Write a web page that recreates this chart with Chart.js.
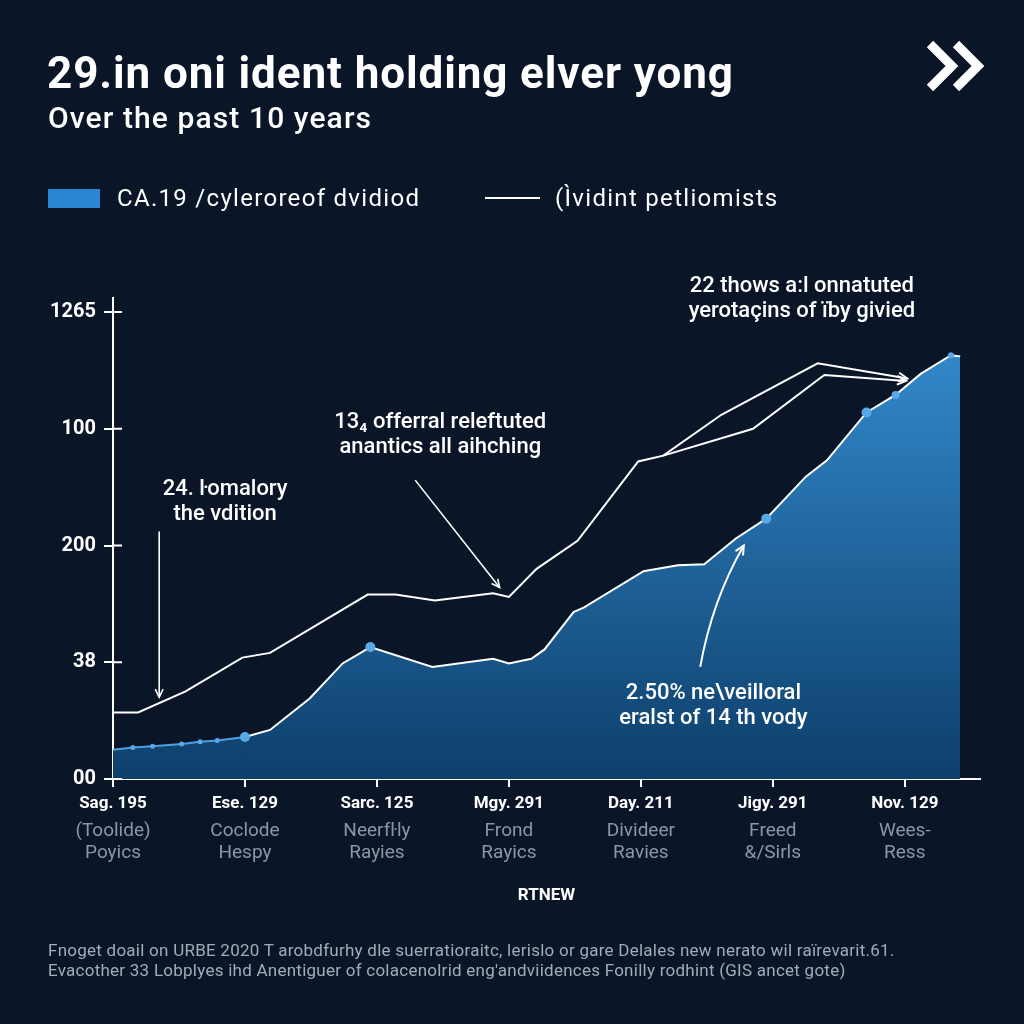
<!DOCTYPE html>
<html>
<head>
<meta charset="utf-8">
<script src="https://cdn.jsdelivr.net/npm/chart.js@4.4.1/dist/chart.umd.min.js"></script>
<style>
  html, body { margin: 0; padding: 0; background: #0a1628; }
  body { width: 1024px; height: 1024px; position: relative; overflow: hidden;
         font-family: Roboto, "Liberation Sans", sans-serif; color: #fff; }
  #chart { position: absolute; left: 0; top: 0; }
  .title { position: absolute; left: 47px; top: 51px; font-size: 44px; line-height: 1; font-weight: 700;
           letter-spacing: 0.9px; white-space: nowrap; }
  .subtitle { position: absolute; left: 48px; top: 103px; font-size: 30px; line-height: 1; font-weight: 500;
              letter-spacing: 1.1px; white-space: nowrap; }
  .legend { position: absolute; top: 186px; font-size: 24px; line-height: 1; letter-spacing: 1.3px;
            white-space: nowrap; }
  .swatch { position: absolute; left: 48px; top: 189px; width: 52px; height: 19px; background: #2a86d2; }
  .dash { position: absolute; left: 485px; top: 197px; width: 55px; height: 2px; background: #fff; }
  .chevron { position: absolute; left: 920px; top: 38px; }
  .note { position: absolute; left: 48px; top: 940px; font-size: 17px; line-height: 20px; color: #a3abb8;
          letter-spacing: 0.25px; white-space: nowrap; }
</style>
</head>
<body>
<canvas id="chart" width="1024" height="1024"></canvas>

<div class="title">29.in oni ident holding elver yong</div>
<div class="subtitle">Over the past 10 years</div>

<div class="swatch"></div>
<div class="legend" style="left:117px">CA.19 /cyleroreof dvidiod</div>
<div class="dash"></div>
<div class="legend" style="left:555px">(Ìvidint petliomists</div>

<svg class="chevron" width="72" height="56" viewBox="0 0 72 56">
  <polyline points="10,6 32,28 10,50" fill="none" stroke="#fff" stroke-width="9" stroke-linejoin="miter"/>
  <polyline points="36,6 58,28 36,50" fill="none" stroke="#fff" stroke-width="9" stroke-linejoin="miter"/>
</svg>

<div class="note">Fnoget doail on URBE 2020 T arobdfurhy dle suerratioraitc, lerislo or gare Delales new nerato wil raïrevarit.61.<br>Evacother 33 Lobplyes ihd Anentiguer of colacenolrid eng'andviidences Fonilly rodhint (GIS ancet gote)</div>

<script>
// x axis: tick positions and their labels
const xTickValues = [0, 1, 2, 3, 4, 5, 6];
const xTickDates = ['Sag. 195', 'Ese. 129', 'Sarc. 125', 'Mgy. 291', 'Day. 211', 'Jigy. 291', 'Nov. 129'];
const xTickNotes = [
    ['(Toolide)', 'Poyics'],
    ['Coclode', 'Hespy'],
    ['Neerfŀly', 'Rayies'],
    ['Frond', 'Rayics'],
    ['Divideer', 'Ravies'],
    ['Freed', '&/Sirls'],
    ['Wees-', 'Ress']
];

// y axis: tick positions and their (odd) labels
const yTickValues = [0, 1, 2, 3, 4];
const yTickLabels = ['00', '38', '200', '100', '1265'];

// filled series
const areaX = [0, 0.15, 0.3, 0.52, 0.66, 0.79, 1.0, 1.19, 1.49, 1.74, 1.95, 2.42, 2.88, 3.0, 3.17, 3.27,
               3.49, 3.57, 4.02, 4.28, 4.48, 4.72, 4.95, 5.25, 5.41, 5.71, 5.93, 6.12, 6.35, 6.42];
const areaY = [0.25, 0.27, 0.28, 0.30, 0.32, 0.33, 0.36, 0.42, 0.69, 0.99, 1.13, 0.96, 1.03, 0.99, 1.03, 1.11,
               1.43, 1.47, 1.78, 1.83, 1.84, 2.06, 2.23, 2.59, 2.73, 3.14, 3.29, 3.47, 3.63, 3.62];
const areaDots = [0, 2.5, 2.5, 2.5, 2.5, 2.5, 5, 0, 0, 0, 5, 0, 0, 0, 0, 0,
                  0, 0, 0, 0, 0, 0, 5, 0, 0, 5, 4, 0, 3, 0];

// white line series and its branch
const lineX = [0, 0.19, 0.55, 0.98, 1.19, 1.93, 2.14, 2.44, 2.88, 3.0, 3.21, 3.52, 3.98, 4.17, 4.61, 5.34, 6.02];
const lineY = [0.57, 0.57, 0.75, 1.04, 1.08, 1.58, 1.58, 1.53, 1.59, 1.56, 1.80, 2.04, 2.72, 2.77, 3.12, 3.56, 3.43];
const branchX = [4.17, 4.85, 5.39, 6.01];
const branchY = [2.77, 3.0, 3.46, 3.41];

// annotation texts
const noteLeft = ['24. ŀomalory', 'the vdition'];
const noteMid = ['13₄ offerral releftuted', 'anantics all aihching'];
const noteTop = ['22 thows a:l onnatuted', 'yerotaçins of ïby givied'];
const noteLow = ['2.50% ne\\veilloral', 'eralst of 14 th vody'];

function toPoints(xs, ys) {
    return xs.map((x, i) => ({ x: x, y: ys[i] }));
}

function arrowHead(ctx, x0, y0, x1, y1, size) {
    const ang = Math.atan2(y1 - y0, x1 - x0);
    ctx.beginPath();
    ctx.moveTo(x1 - size * Math.cos(ang - 0.45), y1 - size * Math.sin(ang - 0.45));
    ctx.lineTo(x1, y1);
    ctx.lineTo(x1 - size * Math.cos(ang + 0.45), y1 - size * Math.sin(ang + 0.45));
    ctx.stroke();
}

// Draws the callouts, pointer arrows and the crossing y ticks
const annotationLayer = {
    id: 'annotationLayer',
    afterDatasetsDraw(chart) {
        const { ctx, chartArea } = chart;
        const px = v => chart.scales.x.getPixelForValue(v);
        const py = v => chart.scales.y.getPixelForValue(v);
        ctx.save();
        ctx.strokeStyle = '#ffffff';
        ctx.fillStyle = '#ffffff';
        ctx.lineWidth = 2;

        // tick marks poking into the plot
        yTickValues.forEach(v => {
            ctx.beginPath();
            ctx.moveTo(chartArea.left, py(v));
            ctx.lineTo(chartArea.left + 9, py(v));
            ctx.stroke();
        });

        // arrow heads at the ends of the white lines
        [1, 2].forEach(i => {
            const pts = chart.getDatasetMeta(i).data;
            const a = pts[pts.length - 2], b = pts[pts.length - 1];
            arrowHead(ctx, a.x, a.y, b.x, b.y, 10);
        });

        // pointer arrows
        ctx.lineWidth = 1.6;
        ctx.beginPath();
        ctx.moveTo(px(0.35), py(2.12));
        ctx.lineTo(px(0.35), py(0.70));
        ctx.stroke();
        arrowHead(ctx, px(0.35), py(2.12), px(0.35), py(0.70), 9);

        ctx.beginPath();
        ctx.moveTo(px(2.29), py(2.56));
        ctx.lineTo(px(2.93), py(1.64));
        ctx.stroke();
        arrowHead(ctx, px(2.29), py(2.56), px(2.93), py(1.64), 9);

        ctx.lineWidth = 2;
        ctx.beginPath();
        ctx.moveTo(px(4.45), py(0.96));
        ctx.quadraticCurveTo(px(4.54), py(1.53), px(4.78), py(2.0));
        ctx.stroke();
        arrowHead(ctx, px(4.54), py(1.53), px(4.78), py(2.0), 10);

        // callout texts
        ctx.font = '500 22px Roboto, sans-serif';
        ctx.textAlign = 'center';
        ctx.textBaseline = 'middle';
        const block = (lines, cx, cy) => {
            lines.forEach((t, i) => ctx.fillText(t, px(cx), py(cy) + i * 25));
        };
        block(noteLeft, 0.85, 2.48);
        block(noteMid, 2.48, 3.05);
        block(noteTop, 5.22, 4.22);
        block(noteLow, 4.55, 0.73);
        ctx.restore();
    }
};

const ctx = document.getElementById('chart').getContext('2d');
const chart = new Chart(ctx, {
    type: 'line',
    data: {
        datasets: [{
            label: 'CA.19 /cyleroreof dvidiod',
            data: toPoints(areaX, areaY),
            fill: 'origin',
            backgroundColor: (c) => {
                const area = c.chart.chartArea;
                if (!area) return 'rgba(30, 100, 170, 0.8)';
                const g = c.chart.ctx.createLinearGradient(0, area.top, 0, area.bottom);
                g.addColorStop(0, '#3791d6');
                g.addColorStop(1, '#0d3f6b');
                return g;
            },
            borderColor: '#ffffff',
            borderWidth: 2,
            segment: {
                borderColor: s => s.p0DataIndex < 6 ? '#4f9fe0' : undefined
            },
            pointRadius: areaDots,
            pointBackgroundColor: '#5aa8e8',
            pointBorderWidth: 0,
            tension: 0
        }, {
            label: '(Ìvidint petliomists',
            data: toPoints(lineX, lineY),
            fill: false,
            borderColor: '#ffffff',
            borderWidth: 2,
            pointRadius: 0,
            tension: 0
        }, {
            label: 'branch',
            data: toPoints(branchX, branchY),
            fill: false,
            borderColor: '#ffffff',
            borderWidth: 2,
            pointRadius: 0,
            tension: 0
        }]
    },
    options: {
        responsive: false,
        animation: false,
        layout: {
            padding: { top: 298, right: 44, bottom: 118, left: 0 }
        },
        plugins: {
            legend: { display: false },
            tooltip: { enabled: false }
        },
        scales: {
            x: {
                type: 'linear',
                min: 0,
                max: 6.57,
                weight: 0,
                afterBuildTicks: s => { s.ticks = xTickValues.map(v => ({ value: v })); },
                afterFit: s => { s.height = 33; },
                grid: { drawOnChartArea: false, color: '#ffffff', lineWidth: 2, tickLength: 8 },
                border: { color: '#ffffff', width: 2 },
                ticks: {
                    color: '#ffffff',
                    font: { family: 'Roboto', size: 17, weight: 'bold' },
                    padding: 7,
                    maxRotation: 0,
                    autoSkip: false,
                    callback: (v, i) => xTickDates[i]
                }
            },
            x2: {
                type: 'linear',
                position: 'bottom',
                min: 0,
                max: 6.57,
                weight: 1,
                afterBuildTicks: s => { s.ticks = xTickValues.map(v => ({ value: v })); },
                afterFit: s => { s.height = 94; },
                grid: { display: false },
                border: { display: false },
                ticks: {
                    color: '#8c96a5',
                    font: { family: 'Roboto', size: 19, lineHeight: 1.16 },
                    padding: 0,
                    maxRotation: 0,
                    autoSkip: false,
                    callback: (v, i) => xTickNotes[i]
                },
                title: {
                    display: true,
                    text: 'RTNEW',
                    color: '#ffffff',
                    font: { family: 'Roboto', size: 17, weight: 'bold' },
                    padding: 0
                }
            },
            y: {
                min: 0,
                max: 4.12,
                afterBuildTicks: s => { s.ticks = yTickValues.map(v => ({ value: v })); },
                afterFit: s => { s.width = 113; },
                grid: { drawOnChartArea: false, color: '#ffffff', lineWidth: 2, tickLength: 9 },
                border: { color: '#ffffff', width: 2 },
                ticks: {
                    color: '#ffffff',
                    font: { family: 'Roboto', size: 20, weight: 'bold' },
                    padding: 8,
                    callback: (v, i) => yTickLabels[i]
                }
            }
        }
    },
    plugins: [annotationLayer]
});
</script>
</body>
</html>
